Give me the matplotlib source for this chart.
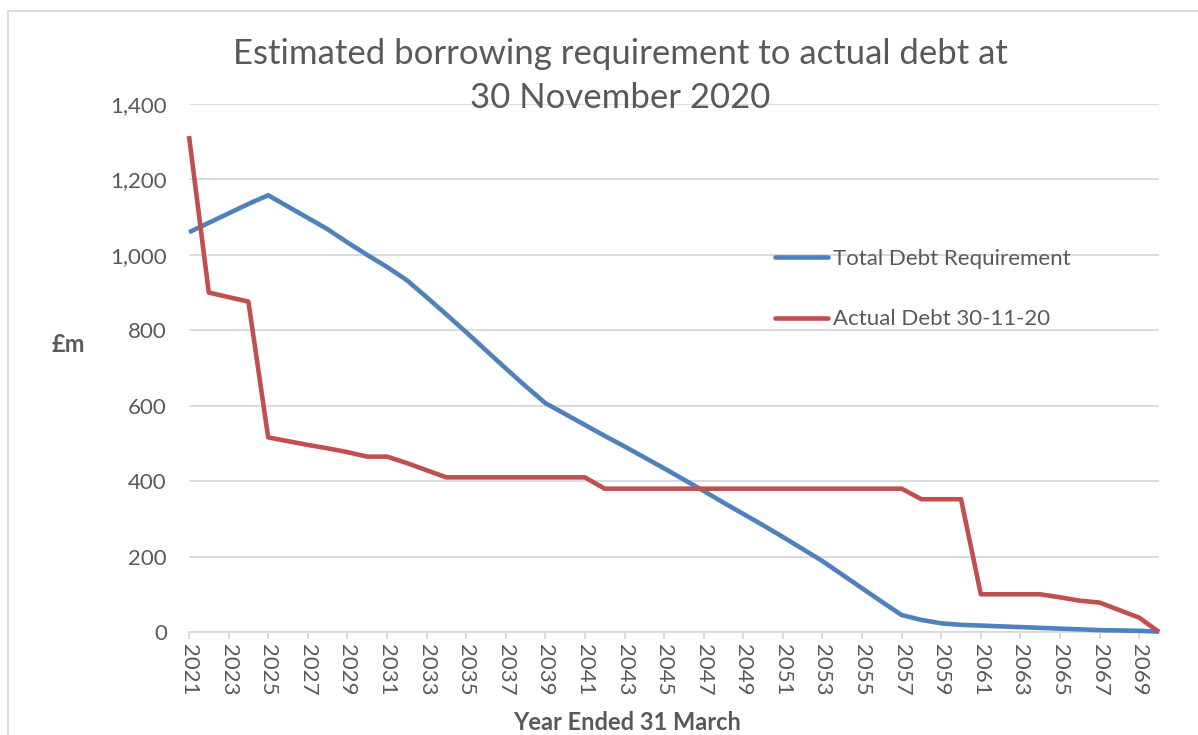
import matplotlib
matplotlib.use("Agg")
import matplotlib.pyplot as plt
from matplotlib.lines import Line2D

plt.rcParams['font.family'] = ['Lato', 'DejaVu Sans']

years = list(range(2021, 2071))
total_debt_requirement = [
    1060, 1085, 1110, 1135, 1158, 1128, 1098, 1068, 1033, 1000,
    968, 933, 888, 842, 795, 747, 699, 652, 607, 578,
    549, 520, 492, 463, 434, 404, 374, 343, 313, 283,
    252, 220, 188, 152, 116, 80, 45, 32, 23, 19,
    17, 15, 13, 11, 9, 7, 5, 4, 3, 1,
]
actual_debt = [
    1315, 900, 888, 876, 516, 506, 496, 487, 477, 465,
    465, 448, 429, 410, 410, 410, 410, 410, 410, 410,
    410, 380, 380, 380, 380, 380, 380, 380, 380, 380,
    380, 380, 380, 380, 380, 380, 380, 352, 352, 352,
    100, 100, 100, 100, 92, 83, 78, 58, 38, 0,
]
series_names = ["Total Debt Requirement", "Actual Debt 30-11-20"]
x_tick_years = list(range(2021, 2070, 2))
y_ticks = [0, 200, 400, 600, 800, 1000, 1200, 1400]
title = "Estimated borrowing requirement to actual debt at\n30 November 2020"

BLUE = "#4F81BD"
RED = "#C0504D"
TXT = "#595959"
GRID = "#D9D9D9"

W, H = 1198, 735
fig = plt.figure(figsize=(W / 100, H / 100), dpi=100)
ax = fig.add_axes([189 / W, 1 - 632 / H, (1159 - 189) / W, (632 - 104) / H])

ax.plot(years, total_debt_requirement, color=BLUE, lw=3.3, solid_joinstyle='round',
        solid_capstyle='butt', label=series_names[0], zorder=3, clip_on=False)
ax.plot(years, actual_debt, color=RED, lw=3.3, solid_joinstyle='round',
        solid_capstyle='butt', label=series_names[1], zorder=3, clip_on=False)

ax.set_xlim(2021, 2070)
ax.set_ylim(0, 1400)
ax.set_yticks(y_ticks)
ax.set_yticklabels([f"{v:,}" for v in y_ticks])
ax.set_xticks(x_tick_years)
ax.set_xticklabels([str(y) for y in x_tick_years], rotation=-90)

for s in ["top", "right", "left"]:
    ax.spines[s].set_visible(False)
ax.spines["bottom"].set_color(GRID)
ax.spines["bottom"].set_linewidth(1.3)

ax.grid(axis='y', color=GRID, lw=1.3)
ax.set_axisbelow(True)
ax.tick_params(axis='y', length=0, pad=16, labelsize=16, labelcolor=TXT)
ax.tick_params(axis='x', length=5, width=1.3, color=GRID, pad=4, labelsize=16, labelcolor=TXT)

ax.set_xlabel("Year Ended 31 March", fontsize=17, fontweight='bold', color=TXT)
ax.xaxis.set_label_coords((627 - 189) / 970, (632 - 723) / 528)
ax.xaxis.label.set_va('center')
ax.set_ylabel("£m", fontsize=17, fontweight='bold', color=TXT, rotation=0)
ax.yaxis.set_label_coords((68 - 189) / 970, (632 - 345) / 528)
ax.yaxis.label.set_va('center')
ax.yaxis.label.set_ha('center')

leg = ax.legend(loc='upper left', bbox_to_anchor=((775 - 189) / 970, (632 - 249) / 528),
                frameon=False, fontsize=16, handlelength=2.4, handletextpad=0.2,
                labelspacing=1.82, borderpad=0, borderaxespad=0)
for t in leg.get_texts():
    t.set_color(TXT)
for h in leg.get_lines():
    h.set_solid_capstyle('round')

fig.text(620 / W, 1 - 76 / H, title, ha='center', va='center', fontsize=25,
         color=TXT, linespacing=1.45)

# chart border (top & left visible in reference)
fig.add_artist(Line2D([8 / W, 1], [1 - 11 / H, 1 - 11 / H], color=GRID, lw=1.3))
fig.add_artist(Line2D([8 / W, 8 / W], [0, 1 - 11 / H], color=GRID, lw=1.3))

fig.savefig("out.png", dpi=100)
